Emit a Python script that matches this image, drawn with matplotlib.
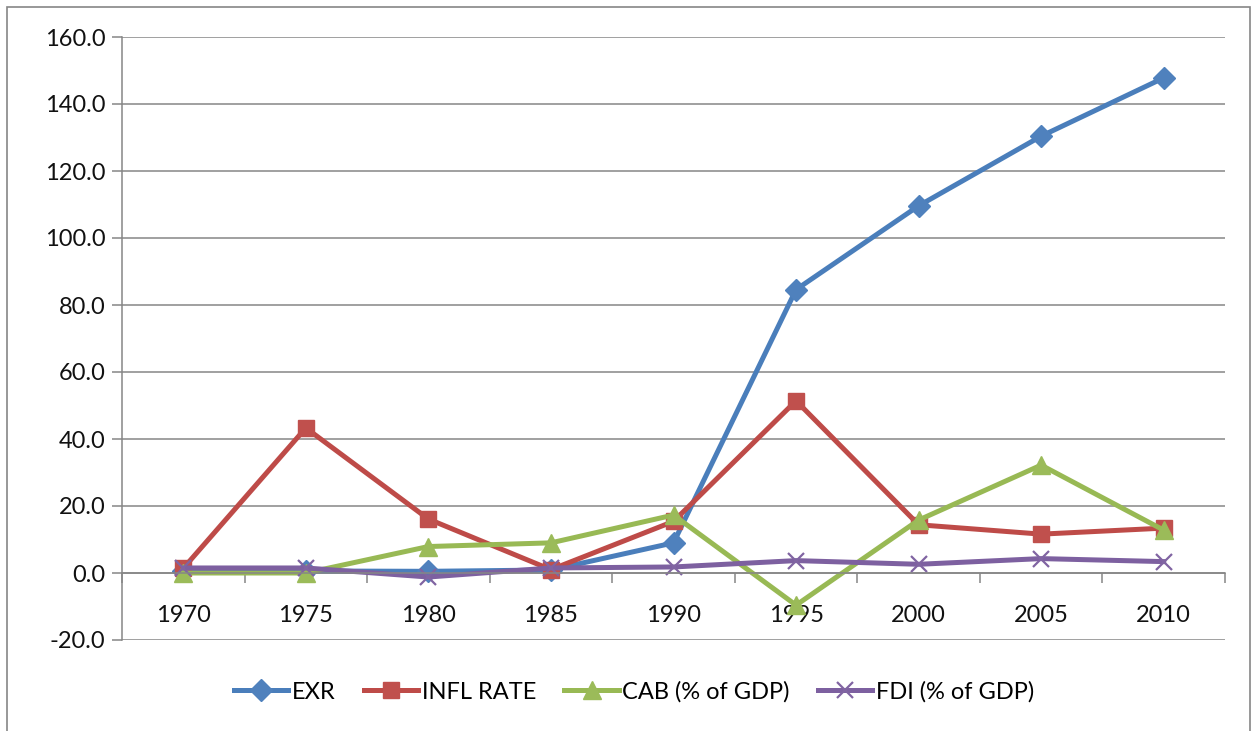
import numpy as np
import matplotlib.pyplot as plt
from matplotlib.patches import Rectangle

plt.rcParams['font.family'] = ['Lato', 'DejaVu Sans']

# Data
years = ['1970', '1975', '1980', '1985', '1990', '1995', '2000', '2005', '2010']
exr = [0.6, 0.6, 0.5, 0.9, 9.0, 84.6, 109.6, 130.4, 147.8]
infl = [1.4, 43.3, 16.1, 1.0, 15.4, 51.4, 14.4, 11.6, 13.4]
cab = [0.0, 0.0, 7.9, 9.0, 17.3, -9.6, 15.8, 32.2, 12.8]
fdi = [1.5, 1.5, -1.2, 1.5, 1.8, 3.7, 2.6, 4.3, 3.4]

series = [
    ('EXR', exr, '#4A7EBB', '#4F81BD', 'D', 11),
    ('INFL RATE', infl, '#BE4B48', '#C0504D', 's', 12),
    ('CAB (% of GDP)', cab, '#98B954', '#9BBB59', '^', 13),
    ('FDI (% of GDP)', fdi, '#7D60A0', '#8064A2', 'x', 12),
]

fig = plt.figure(figsize=(12.55, 7.31), dpi=100)
ax = fig.add_axes([122 / 1255, 1 - 640 / 731, (1225 - 122) / 1255, (640 - 37) / 731])

x = np.arange(len(years))
for name, vals, lc, mc, mk, ms in series:
    if mk == 'x':
        ax.plot(x, vals, color=lc, lw=3.6, marker=mk, ms=ms, mec=mc, mew=1.6, label=name)
    else:
        ax.plot(x, vals, color=lc, lw=3.6, marker=mk, ms=ms, mfc=mc, mec=mc, label=name)

ax.set_ylim(-20, 160)
ax.set_xlim(-0.5, len(years) - 0.5)
ax.set_yticks(np.arange(-20, 161, 20))
ax.set_yticklabels(['%.1f' % v for v in np.arange(-20, 161, 20)])
ax.grid(axis='y', color='#868686', lw=1.1)
ax.set_axisbelow(True)

for s in ['top', 'right']:
    ax.spines[s].set_visible(False)
ax.spines['left'].set_color('#868686')
ax.spines['left'].set_linewidth(1.1)
ax.spines['bottom'].set_position(('data', 0))
ax.spines['bottom'].set_color('#868686')
ax.spines['bottom'].set_linewidth(1.1)

# category labels without ticks, tick marks between categories
ax.set_xticks(x)
ax.set_xticklabels(years)
ax.tick_params(axis='x', which='major', length=0, pad=23, labelsize=17, labelcolor='#111111')
ax.set_xticks(np.arange(-0.5, len(years)), minor=True)
ax.tick_params(axis='x', which='minor', length=7, width=1.1, color='#868686', direction='out')
ax.tick_params(axis='y', length=7, width=1.1, color='#868686', labelsize=17, pad=5,
               labelcolor='#111111')

leg = fig.legend(loc='center', bbox_to_anchor=(634 / 1255, 1 - 692 / 731), ncol=4,
                 frameon=False, fontsize=17, handlelength=2.3, columnspacing=1.2,
                 handletextpad=0.15)

# outer chart border
fig.patches.append(Rectangle((7 / 1255, -0.05), 1243 / 1255, 1.05 - 7 / 731,
                             transform=fig.transFigure, fill=False,
                             edgecolor='#868686', lw=1.2))

fig.savefig('out.png', dpi=100)
